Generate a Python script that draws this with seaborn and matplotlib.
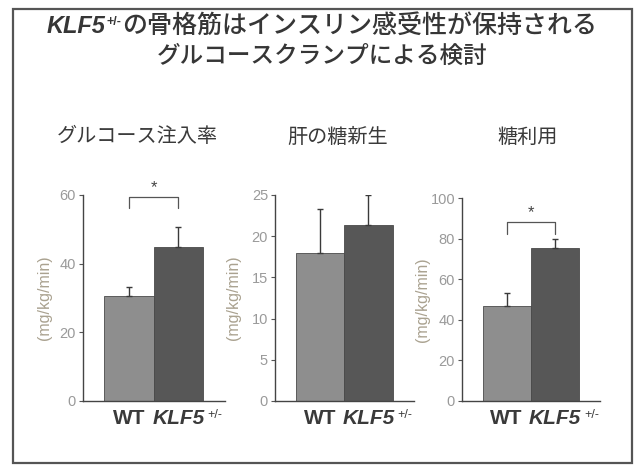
import matplotlib
matplotlib.use("Agg")
import matplotlib.pyplot as plt
from matplotlib.patches import Rectangle
import seaborn as sns
import pandas as pd

# ---------------- data ----------------
groups = ["WT", "KLF5+/-"]
panel_titles = ["グルコース注入率", "肝の糖新生", "糖利用"]
infusion_rate = [30.6, 44.9]
infusion_err = [2.5, 5.7]
hepatic_gluconeogenesis = [18.0, 21.4]
hepatic_err = [5.3, 3.6]
glucose_utilization = [47.0, 75.3]
utilization_err = [6.4, 4.6]
y_max = [60, 25, 100]
y_ticks = [[0, 20, 40, 60], [0, 5, 10, 15, 20, 25], [0, 20, 40, 60, 80, 100]]
significant = [True, False, True]
bracket_level = [59.5, None, 88.0]
y_unit = "(mg/kg/min)"
gene = "KLF5"
genotype = "+/-"
title_main_rest = "の骨格筋はインスリン感受性が保持される"
title_sub = "グルコースクランプによる検討"

# ---------------- style ----------------
sns.set_style("white")
plt.rcParams["font.family"] = ["Liberation Sans", "Noto Sans CJK JP", "DejaVu Sans"]

W, H = 635, 467
fig = plt.figure(figsize=(W / 100, H / 100), dpi=100)
fig.patch.set_facecolor("white")
renderer = fig.canvas.get_renderer()
CJK = ["Noto Sans CJK JP", "DejaVu Sans"]
LAT = ["Liberation Sans", "DejaVu Sans"]


def draw_pieces(x_anchor, baseline_px, pieces, anchor_index=None):
    """pieces: list of (string, kwargs, dy_px, gap_px). Laid out left to right.
    If anchor_index is None the whole run is centred on x_anchor,
    otherwise that piece is centred on x_anchor."""
    items = []
    for s, kw, dy, gap in pieces:
        t = fig.text(0, 0, s, va="baseline", ha="left", **kw)
        w = t.get_window_extent(renderer).width
        items.append((t, dy, w, gap))
    if anchor_index is None:
        total = sum(w + g for _, _, w, g in items)
        x = x_anchor - total / 2
    else:
        before = sum(w + g for _, _, w, g in items[:anchor_index])
        x = x_anchor - before - items[anchor_index][2] / 2
    for t, dy, w, gap in items:
        t.set_position((x / W, (H - baseline_px + dy) / H))
        x += w + gap


# outer frame
fig.add_artist(Rectangle((13 / W, (H - 463) / H), (632 - 13) / W, (463 - 9) / H,
                         transform=fig.transFigure, fill=False,
                         edgecolor="#555555", linewidth=1.6))

title_color = "#363636"
draw_pieces(322, 33, [
    (gene, dict(fontsize=17, style="italic", weight="bold", color=title_color, family=LAT), 0, 1),
    (genotype, dict(fontsize=9, weight="bold", color=title_color, family=LAT), 8, 1),
    (title_main_rest, dict(fontsize=18, weight="medium", color=title_color, family=CJK), 0, 0),
])
fig.text(322 / W, 1 - 56 / H, title_sub, ha="center", va="center",
         fontsize=17, weight="medium", color=title_color, family=CJK)


def px_rect(l, r, top, bottom):
    return [l / W, (H - bottom) / H, (r - l) / W, (bottom - top) / H]


axes_px = [(83, 225, 195, 401), (275, 414, 195, 401), (462, 600, 198, 401)]
ylabel_x = [-0.215, -0.245, -0.23]
sub_x = [137, 338, 528]
values = [infusion_rate, hepatic_gluconeogenesis, glucose_utilization]
errors = [infusion_err, hepatic_err, utilization_err]
palette = {"WT": "#8e8e8e", "KLF5+/-": "#575757"}
label_color = "#3a3a3a"

for i in range(3):
    ax = fig.add_axes(px_rect(*axes_px[i]))
    df = pd.DataFrame({"group": groups, "value": values[i]})
    sns.barplot(data=df, x="group", y="value", hue="group", palette=palette,
                width=1.0, errorbar=None, legend=False, ax=ax,
                edgecolor="#4a4a4a", linewidth=0.6)
    ax.errorbar([0, 1], values[i], yerr=[[0, 0], errors[i]], fmt="none",
                ecolor="#3a3a3a", elinewidth=1.0, capsize=2, capthick=1.0)
    ax.set_xlim(-0.93, 1.94)
    ax.set_ylim(0, y_max[i])
    ax.set_yticks(y_ticks[i])
    ax.tick_params(axis="y", which="both", left=True, length=3, width=0.8,
                   color="#555555", labelsize=10.5, labelcolor="#9a9a9a", pad=2)
    ax.set_xticks([0, 1])
    ax.set_xticklabels(["", ""])
    ax.tick_params(axis="x", length=0)
    ax.set_xlabel("")
    ax.set_ylabel(y_unit, fontsize=11.5, color="#aaa290")
    ax.yaxis.set_label_coords(ylabel_x[i], 0.5)
    for s in ["top", "right"]:
        ax.spines[s].set_visible(False)
    for s in ["left", "bottom"]:
        ax.spines[s].set_color("#444444")
        ax.spines[s].set_linewidth(1.0)
    ax.set_facecolor("none")
    if significant[i]:
        top = bracket_level[i]
        leg = 0.055 * y_max[i]
        ax.plot([0, 0, 1, 1], [top - leg, top, top, top - leg],
                color="#555555", linewidth=0.9, clip_on=False)
        ax.text(0.5, top + 0.01 * y_max[i], "*", ha="center", va="bottom",
                fontsize=12, color="#444444", clip_on=False)
    fig.text(sub_x[i] / W, 1 - 137 / H, panel_titles[i], ha="center",
             va="center", fontsize=14.5, color="#3a3a3a", family=CJK)

    # group labels under the bars, positioned through the data scale
    x_wt = ax.transData.transform((0, 0))[0]
    x_ko = ax.transData.transform((1, 0))[0]
    draw_pieces(x_wt, 424, [
        (groups[0], dict(fontsize=15, weight="bold", color=label_color, family=LAT), 0, 0)])
    draw_pieces(x_ko, 424, [
        (gene, dict(fontsize=15, style="italic", weight="bold", color=label_color, family=LAT), 0, 3),
        (genotype, dict(fontsize=9, color=label_color, family=LAT), 6, 0),
    ], anchor_index=0)

fig.savefig("out.png", dpi=100, facecolor="white")
